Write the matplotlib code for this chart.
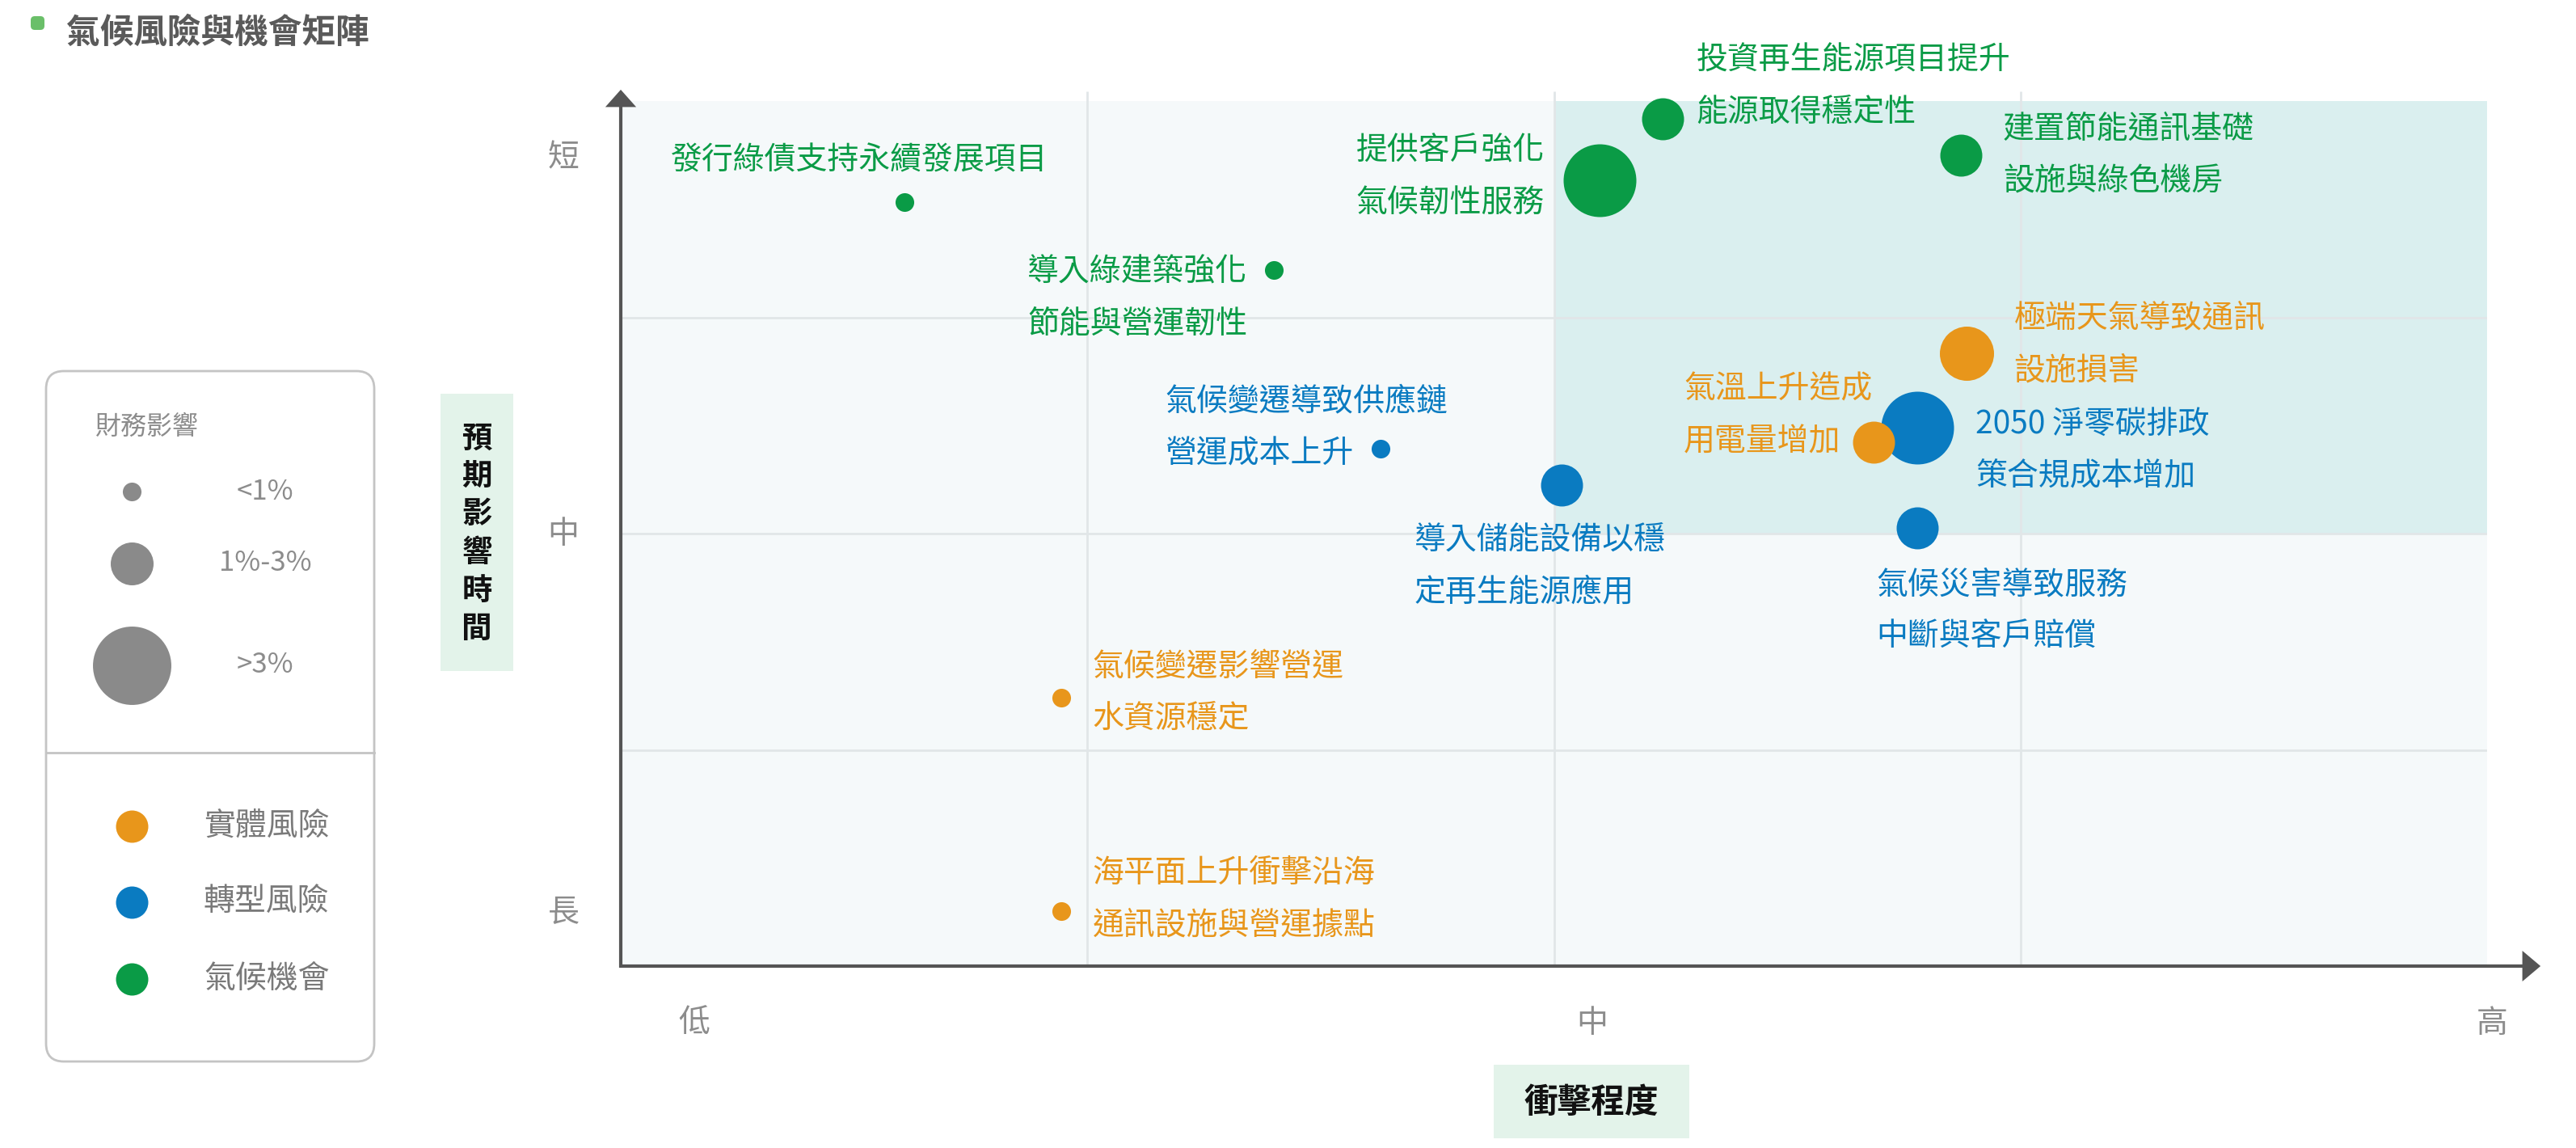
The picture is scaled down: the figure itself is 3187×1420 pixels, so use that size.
import matplotlib
matplotlib.use("Agg")
import matplotlib.pyplot as plt
from matplotlib.patches import FancyBboxPatch, Rectangle, Polygon
from matplotlib.lines import Line2D

plt.rcParams['font.family'] = ['Noto Sans CJK TC', 'DejaVu Sans']

# ---------------- data ----------------
labels = [
    "發行綠債支持永續發展項目",
    "導入綠建築強化\n節能與營運韌性",
    "提供客戶強化\n氣候韌性服務",
    "投資再生能源項目提升\n能源取得穩定性",
    "建置節能通訊基礎\n設施與綠色機房",
    "極端天氣導致通訊\n設施損害",
    "氣溫上升造成\n用電量增加",
    "2050 淨零碳排政\n策合規成本增加",
    "氣候變遷導致供應鏈\n營運成本上升",
    "導入儲能設備以穩\n定再生能源應用",
    "氣候災害導致服務\n中斷與客戶賠償",
    "氣候變遷影響營運\n水資源穩定",
    "海平面上升衝擊沿海\n通訊設施與營運據點",
]
impact_degree = [0.608, 1.400, 2.098, 2.233, 2.872, 2.884, 2.685, 2.779, 1.628, 2.016, 2.779, 0.944, 0.944]
time_horizon = [3.533, 3.219, 3.634, 3.918, 3.750, 2.834, 2.422, 2.490, 2.393, 2.224, 2.026, 1.241, 0.254]
category = ["機會", "機會", "機會", "機會", "機會", "實體", "實體", "轉型", "轉型", "轉型", "轉型", "實體", "實體"]
financial_size = [69, 69, 1050, 350, 350, 582, 350, 1050, 69, 350, 350, 69, 69]

category_names = ["實體風險", "轉型風險", "氣候機會"]
category_keys = ["實體", "轉型", "機會"]
size_legend_labels = ["<1%", "1%-3%", ">3%"]
size_legend_values = [69, 364, 1218]

x_tick_pos = [0.158, 2.082, 4.010]
x_tick_labels = ["低", "中", "高"]
y_tick_pos = [3.735, 1.996, 0.247]
y_tick_labels = ["短", "中", "長"]

# label layout: (dx pt, dy pt, ha)
label_layout = [
    (-20.0, 18.7, "center"),
    (-11.9, -12.6, "right"),
    (-24.5, 1.4, "right"),
    (15.0, 14.4, "left"),
    (18.7, 0.0, "left"),
    (21.2, 4.0, "left"),
    (-84.6, 11.9, "left"),
    (25.9, -10.0, "left"),
    (-95.8, 9.4, "left"),
    (-65.5, -36.0, "left"),
    (-18.4, -37.0, "left"),
    (14.0, 2.2, "left"),
    (14.0, 5.4, "left"),
]

colors = {"實體": "#E8961B", "轉型": "#0A7BC1", "機會": "#0A9B46"}

# ---------------- figure ----------------
W, H = 3187, 1420
DPI = 200
fig = plt.figure(figsize=(W / DPI, H / DPI), dpi=DPI)
fig.patch.set_facecolor("white")

# pixel overlay axes (1 unit = 1 px, origin top-left)
ov = fig.add_axes([0, 0, 1, 1], zorder=5)
ov.set_xlim(0, W)
ov.set_ylim(H, 0)
ov.axis("off")
ov.patch.set_alpha(0)

# main plot axes
X0, X1, Y0, Y1 = 768, 3077, 125, 1195
ax = fig.add_axes([X0 / W, 1 - Y1 / H, (X1 - X0) / W, (Y1 - Y0) / H], zorder=2)
ax.set_xlim(0, 4)
ax.set_ylim(0, 4)
ax.set_facecolor("#F5F9FA")
for s in ax.spines.values():
    s.set_visible(False)
ax.set_xticks([])
ax.set_yticks([])

ax.add_patch(Rectangle((2, 2), 2, 2, facecolor="#DAEFEF", edgecolor="none", zorder=0))
ax.vlines([1, 2, 3], 0, 4.045, colors="#E1E6E8", linewidth=1.0, zorder=1, clip_on=False)
ax.hlines([1, 2, 3], 0, 4, colors="#E1E6E8", linewidth=1.0, zorder=1)

# tick labels
for p, t in zip(x_tick_pos, x_tick_labels):
    ax.text(p, -0.0664, t, transform=ax.get_xaxis_transform(), ha="center", va="center",
            fontsize=14, color="#8C8C8C")
for p, t in zip(y_tick_pos, y_tick_labels):
    ax.text(-0.0307, p, t, transform=ax.get_yaxis_transform(), ha="center", va="center",
            fontsize=14, color="#8C8C8C")

# bubbles, largest drawn first
order = sorted(range(len(labels)), key=lambda i: -financial_size[i])
for i in order:
    ax.scatter(impact_degree[i], time_horizon[i], s=financial_size[i], color=colors[category[i]],
               linewidths=0, zorder=3, clip_on=False)

# bubble labels
LINE_GAP = 23.2  # pt
for i, txt in enumerate(labels):
    dx, dy, ha = label_layout[i]
    lines = txt.split("\n")
    n = len(lines)
    for k, line in enumerate(lines):
        off = dy + (n - 1) / 2 * LINE_GAP - k * LINE_GAP
        ax.annotate(line, (impact_degree[i], time_horizon[i]), xytext=(dx, off),
                    textcoords="offset points", ha=ha, va="center", fontsize=14,
                    color=colors[category[i]], zorder=4, annotation_clip=False)

# axes with arrows
AX_COL = "#555555"
ov.add_line(Line2D([X0, X0], [Y1 + 2, 128], color=AX_COL, linewidth=1.5, solid_capstyle="butt"))
ov.add_patch(Polygon([[X0 - 16, 131], [X0 + 16, 131], [X0, 113]], closed=True, color=AX_COL))
ov.add_line(Line2D([X0 - 1, 3125], [Y1, Y1], color=AX_COL, linewidth=1.5, solid_capstyle="butt"))
ov.add_patch(Polygon([[3122, Y1 - 16], [3122, Y1 + 16], [3141, Y1]], closed=True, color=AX_COL))

# axis titles with green boxes
ov.add_patch(Rectangle((545, 487), 90, 343, facecolor="#E3F3EA", edgecolor="none"))
ytitle = "預期影響時間"
for k, ch in enumerate(ytitle):
    ov.text(590, 542 + k * 47, ch, ha="center", va="center", fontsize=13.5,
            fontweight="bold", color="#111111")
ov.add_patch(Rectangle((1848, 1317), 242, 91, facecolor="#E3F3EA", edgecolor="none"))
ov.text(1969, 1364, "衝擊程度", ha="center", va="center", fontsize=15,
        fontweight="bold", color="#111111")

# title
ov.add_patch(FancyBboxPatch((38, 20), 17, 17, boxstyle="round,pad=0,rounding_size=5",
                            facecolor="#6ABF69", edgecolor="none"))
ov.text(82, 41, "氣候風險與機會矩陣", ha="left", va="center", fontsize=15,
        fontweight="bold", color="#5A5A5A")

# legend box
ov.add_patch(FancyBboxPatch((57, 459), 406, 854, boxstyle="round,pad=0,rounding_size=22",
                            facecolor="white", edgecolor="#C4C4C4", linewidth=1.0))
ov.add_line(Line2D([57, 463], [931, 931], color="#C4C4C4", linewidth=1.0))
ov.text(118, 528, "財務影響", ha="left", va="center", fontsize=11.5, color="#8C8C8C")
size_y = [608, 697, 823]
for yy, sv, lab in zip(size_y, size_legend_values, size_legend_labels):
    ov.scatter([163], [yy], s=sv, color="#8A8A8A", linewidths=0)
    ov.text(328, yy, lab, ha="center", va="center", fontsize=12.5, color="#8C8C8C")
cat_y = [1022, 1116, 1211]
for yy, key, name in zip(cat_y, category_keys, category_names):
    ov.scatter([163], [yy], s=207, color=colors[key], linewidths=0)
    ov.text(252, yy, name, ha="left", va="center", fontsize=14, color="#7A7A7A")

fig.savefig("out.png", dpi=DPI, facecolor="white")
